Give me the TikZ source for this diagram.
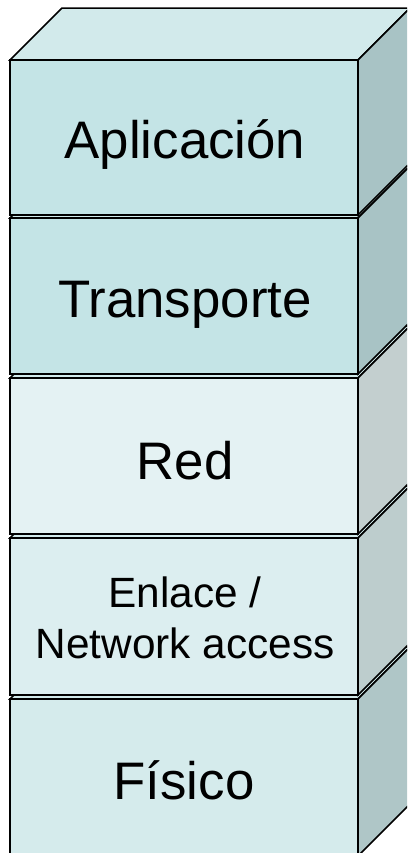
\documentclass[tikz,border=0pt]{standalone}
\usepackage{fontspec}
\setmainfont{Liberation Sans}
\definecolor{frontA}{HTML}{C4E4E6}
\definecolor{sideA}{HTML}{A8C3C5}
\definecolor{topA}{HTML}{D2EAEB}
\definecolor{frontC}{HTML}{E4F2F3}
\definecolor{sideC}{HTML}{C3CFCF}
\definecolor{frontD}{HTML}{DCEEF0}
\definecolor{sideD}{HTML}{BDCDCD}
\definecolor{frontE}{HTML}{D5EBEC}
\definecolor{sideE}{HTML}{AFC6C7}
\newcommand\osibox[4]{%
  \filldraw[edge,fill=topA] (10,#1) -- ++(52,-52) -- ++(348,0) -- (358,#1) -- cycle;
  \filldraw[edge,fill=#4] (358,#1) -- ++(52,-52) -- (410,#2-52) -- (358,#2) -- cycle;
  \filldraw[edge,fill=#3] (10,#1) rectangle (358,#2);
}
\begin{document}
\begin{tikzpicture}[x=1bp,y=-1bp,
  edge/.style={draw=black,line width=1.5bp,line join=miter},
  biglabel/.style={font=\fontsize{53}{63}\selectfont,anchor=base,inner sep=0pt},
  smalllabel/.style={font=\fontsize{42.5}{51}\selectfont,align=center,anchor=center,inner sep=0pt}]
\useasboundingbox (0,0) rectangle (407,853);
\clip (0,0) rectangle (407,853);
\osibox{699}{856}{frontE}{sideE}
\osibox{538}{695}{frontD}{sideD}
\osibox{378}{534}{frontC}{sideC}
\osibox{218}{374}{frontA}{sideA}
\osibox{60}{215}{frontA}{sideA}
\node[biglabel] (app) at (185,158) {Aplicación};
\node[biglabel] (tra) at (185,317) {Transporte};
\node[biglabel] (red) at (185,479) {Red};
\node[smalllabel] (enl) at (185,618) {Enlace /\\Network access};
\node[biglabel] (fis) at (184,799) {Físico};
\end{tikzpicture}
\end{document}
